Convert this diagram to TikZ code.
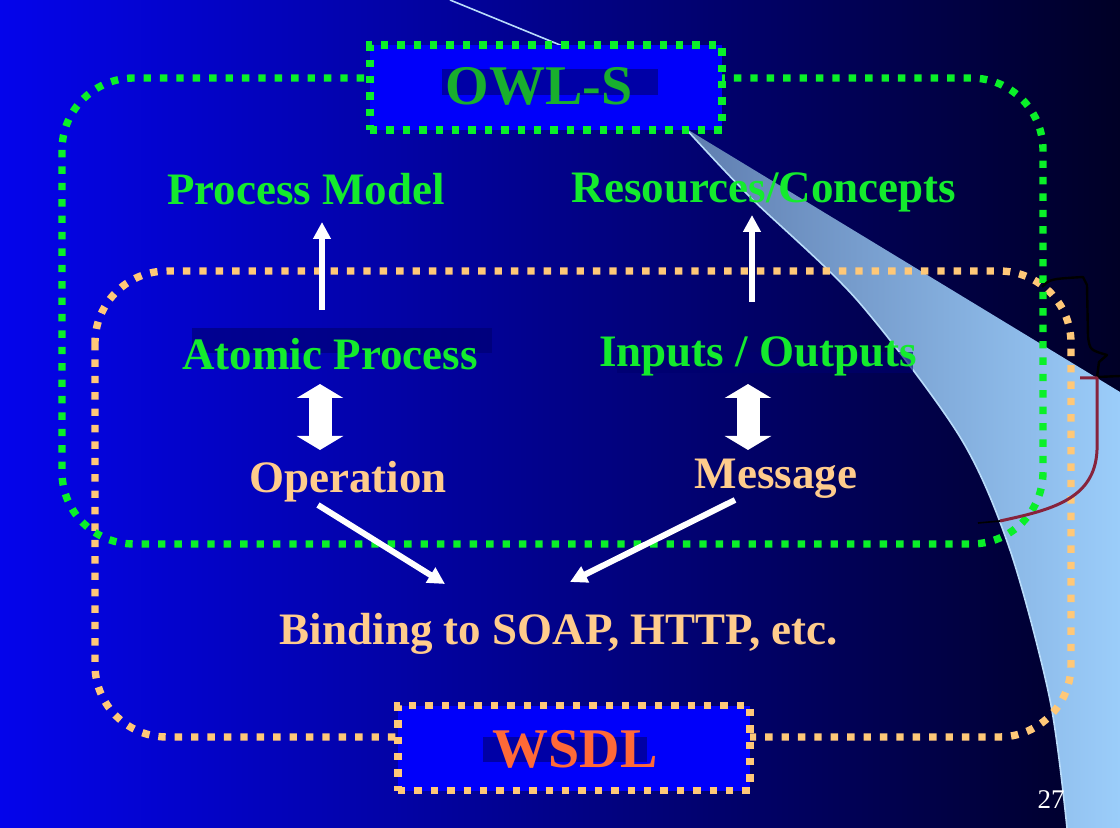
\documentclass[tikz,border=0pt]{standalone}
\usepackage{fontspec}
\setmainfont{Liberation Serif}
\usetikzlibrary{arrows.meta}
\definecolor{bgL}{RGB}{4,4,235}
\definecolor{bgM}{RGB}{0,0,165}
\definecolor{bgR}{RGB}{0,0,38}
\definecolor{dotG}{RGB}{10,240,40}
\definecolor{dotO}{RGB}{255,200,120}
\definecolor{txtG}{RGB}{20,235,45}
\definecolor{txtO}{RGB}{255,204,140}
\definecolor{owlG}{RGB}{25,175,45}
\definecolor{wsdlR}{RGB}{255,105,55}
\definecolor{boxB}{RGB}{0,0,250}
\definecolor{swL}{RGB}{95,125,175}
\definecolor{swR}{RGB}{155,205,250}
\definecolor{swEdge}{RGB}{185,220,250}
\definecolor{annR}{RGB}{135,35,60}
\definecolor{shad}{RGB}{0,0,110}
\begin{document}
\begin{tikzpicture}[x=0.5pt,y=-0.5pt,
  dotline/.style={line width=3.7pt, dash pattern=on 3.7pt off 4.5pt, line cap=butt},
  lbl/.style={anchor=base, inner sep=0pt, font=\fontsize{22.5}{27}\selectfont\bfseries},
  big/.style={anchor=base, inner sep=0pt, font=\fontsize{28}{34}\selectfont\bfseries},
  thinarr/.style={draw=white, line width=3pt, -{Triangle[width=8.5pt,length=8.5pt]}},
  dblarr/.style={draw=white, line width=11.5pt, {Triangle[width=23pt,length=7pt]}-{Triangle[width=23pt,length=7pt]}},
  shadowbar/.style={fill=shad, opacity=0.6},
  dotbox/.style={dotline, fill=boxB, minimum width=176pt, minimum height=42.5pt, inner sep=0pt},
]
\useasboundingbox (0,0) rectangle (1120,828);
% background
\shade[left color=bgL, middle color=bgM, right color=bgR] (0,0) rectangle (1120,828);
% swoosh
\shade[left color=swL, right color=swR] (685,128) -- (1120,392) -- (1120,828) -- (1067,828)
  -- plot[smooth] coordinates {(1067,828) (1050,700) (1010,550) (960,437) (857,300) (750,197) (685,128)} -- cycle;
\draw[swEdge, line width=0.8pt] plot[smooth] coordinates {(1067,828) (1050,700) (1010,550) (960,437) (857,300) (750,197) (685,128)};
\draw[swEdge, line width=0.8pt] (450,0) -- (565,47);
% dotted frames
\draw[dotline, draw=dotO, rounded corners=36pt] (95,271) rectangle (1071,737);
\draw[dotline, draw=dotG, rounded corners=36pt] (62,78) rectangle (1043,544);
% title boxes
\node (owlbox) [dotbox, draw=dotG] at (546,87.5) {};
\node (wsdlbox) [dotbox, draw=dotO] at (574,748) {};
% shadow bars
\fill[shadowbar] (442,69) rectangle (658,95);
\fill[shadowbar] (483,737) rectangle (647,762);
\fill[shadowbar] (192,328) rectangle (492,353);
\fill[shadowbar] (617,352) rectangle (913,373);
% titles
\node (owl) [big, text=owlG] at (539,105) {OWL-S};
\node (wsdl) [big, text=wsdlR] at (575,767) {WSDL};
% labels
\node (pm) [lbl, text=txtG] at (306,205) {Process Model};
\node (rc) [lbl, text=txtG] at (764,203) {Resources/Concepts};
\node (ap) [lbl, text=txtG] at (330,370) {Atomic Process};
\node (io) [lbl, text=txtG] at (758,367) {Inputs / Outputs};
\node (op) [lbl, text=txtO] at (348,493) {Operation};
\node (msg) [lbl, text=txtO] at (776,489) {Message};
\node (bind) [lbl, text=txtO] at (559,645) {Binding to SOAP, HTTP, etc.};
\node (num) [anchor=base, inner sep=0pt, text=white, font=\fontsize{13.5}{16}\selectfont] at (1051,808) {27};
% connector end points
\coordinate (apTop) at (322,310);
\coordinate (pmBot) at (322,222);
\coordinate (ioTop) at (752,302);
\coordinate (rcBot) at (752,215);
\coordinate (apBot) at (320,384);
\coordinate (opTop) at (320,450);
\coordinate (ioBot) at (748,384);
\coordinate (msgTop) at (748,450);
\coordinate (opOut) at (318,505);
\coordinate (bindL) at (445,584);
\coordinate (msgOut) at (735,500);
\coordinate (bindR) at (570,582);
% connectors
\draw[thinarr] (apTop) -- (pmBot);
\draw[thinarr] (ioTop) -- (rcBot);
\draw[dblarr] (apBot) -- (opTop);
\draw[dblarr] (ioBot) -- (msgTop);
\draw[thinarr] (opOut) -- (bindL);
\draw[thinarr] (msgOut) -- (bindR);
% hand annotations
\draw[black, line width=1.2pt, line join=round] (1042,287) .. controls (1050,279) .. (1083,277) -- (1087,285) -- (1088,337) .. controls (1090,350) .. (1107,355) -- (1099,362) -- (1097,377) -- (1120,376);
\draw[annR, line width=1.5pt, line join=round] (1080,378) -- (1097,378) -- (1097,450) .. controls (1095,500) and (1050,510) .. (1000,521);
\draw[black, line width=0.8pt] (1000,521) -- (978,523);
\end{tikzpicture}
\end{document}
